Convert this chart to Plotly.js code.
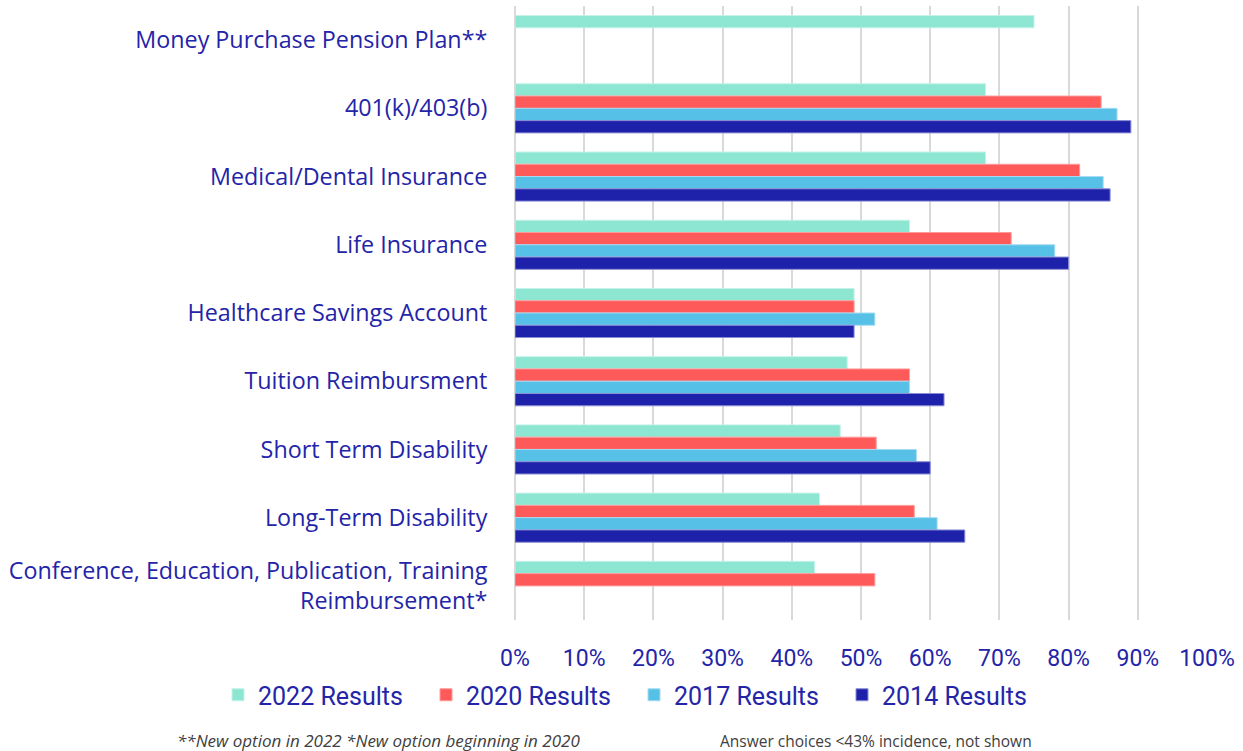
<!DOCTYPE html>
<html>
<head>
<meta charset="utf-8">
<script src="https://cdn.plot.ly/plotly-3.0.1.min.js"></script>
<style>html,body{margin:0;padding:0;background:#fff;}#chart{width:1243px;height:751px;}</style>
</head>
<body>
<div id="chart"></div>
<script>
const categories = [
  "Money Purchase Pension Plan**",
  "401(k)/403(b)",
  "Medical/Dental Insurance",
  "Life Insurance",
  "Healthcare Savings Account",
  "Tuition Reimbursment",
  "Short Term Disability",
  "Long-Term Disability",
  "Conference, Education, Publication, Training<br>Reimbursement*"
];
const seriesNames = ["2022 Results", "2020 Results", "2017 Results", "2014 Results"];
const results2022 = [75, 68, 68, 57, 49, 48, 47, 44, 43.3];
const results2020 = [null, 84.7, 81.6, 71.7, 49, 57, 52.2, 57.7, 52];
const results2017 = [null, 87, 85, 78, 52, 57, 58, 61, null];
const results2014 = [null, 89, 86, 80, 49, 62, 60, 65, null];
const tickValues = [0,10,20,30,40,50,60,70,80,90,100];
const tickLabels = ["0%","10%","20%","30%","40%","50%","60%","70%","80%","90%","100%"];

const colors = ["#8CE6D2", "#FF5A5A", "#56C0E6", "#1E22AA"];
const lineColors = ["#C5F2E8", "#FF9A9A", "#A6DCF2", "#8A8CD4"];
const allSeries = [results2022, results2020, results2017, results2014];

const textColor = "#2424A8";
const traces = allSeries.map((vals, i) => ({
  type: "bar",
  orientation: "h",
  name: seriesNames[i],
  y: categories,
  x: vals,
  marker: { color: colors[i], line: { color: lineColors[i], width: 1 } },
  hoverinfo: "x+y"
}));

const layout = {
  width: 1243,
  height: 751,
  margin: { l: 515, r: 36, t: 6, b: 131 },
  paper_bgcolor: "#ffffff",
  plot_bgcolor: "#ffffff",
  barmode: "group",
  bargap: 0.28,
  bargroupgap: 0,
  showlegend: true,
  xaxis: {
    range: [0, 100],
    tickvals: tickValues,
    ticktext: tickLabels,
    showgrid: true,
    gridcolor: "#D9D9D9",
    gridwidth: 2,
    zeroline: true,
    zerolinecolor: "#D9D9D9",
    zerolinewidth: 2,
    showline: false,
    ticks: "outside",
    ticklen: 17,
    tickcolor: "rgba(0,0,0,0)",
    tickfont: { family: "Roboto, 'Noto Sans', sans-serif", size: 23, color: textColor },
    fixedrange: true
  },
  yaxis: {
    type: "category",
    autorange: "reversed",
    showgrid: false,
    zeroline: false,
    showline: false,
    ticks: "outside",
    ticklen: 22,
    tickcolor: "rgba(0,0,0,0)",
    tickfont: { family: "'Open Sans', Lato, sans-serif", size: 23.3, color: textColor },
    fixedrange: true
  },
  legend: {
    orientation: "h",
    xref: "paper",
    yref: "paper",
    x: (218 - 515) / 692,
    xanchor: "left",
    y: (620 - 695) / 614,
    yanchor: "middle",
    font: { family: "Roboto, 'Noto Sans', sans-serif", size: 25, color: textColor },
    itemwidth: 30,
    entrywidth: 163,
    entrywidthmode: "pixels",
    traceorder: "normal"
  },
  annotations: [
    {
      text: "<i>**New option in 2022 *New option beginning in 2020</i>",
      xref: "paper", yref: "paper",
      x: (175 - 515) / 692, y: (620 - 740) / 614,
      xanchor: "left", yanchor: "middle",
      showarrow: false,
      font: { family: "'Open Sans', sans-serif", size: 17, color: "#404040" }
    },
    {
      text: "Answer choices <43% incidence, not shown",
      xref: "paper", yref: "paper",
      x: (718 - 515) / 692, y: (620 - 741) / 614,
      xanchor: "left", yanchor: "middle",
      showarrow: false,
      font: { family: "'Open Sans', sans-serif", size: 15.5, color: "#404040" }
    }
  ]
};

Plotly.newPlot("chart", traces, layout, { displayModeBar: false, staticPlot: true });
</script>
</body>
</html>
